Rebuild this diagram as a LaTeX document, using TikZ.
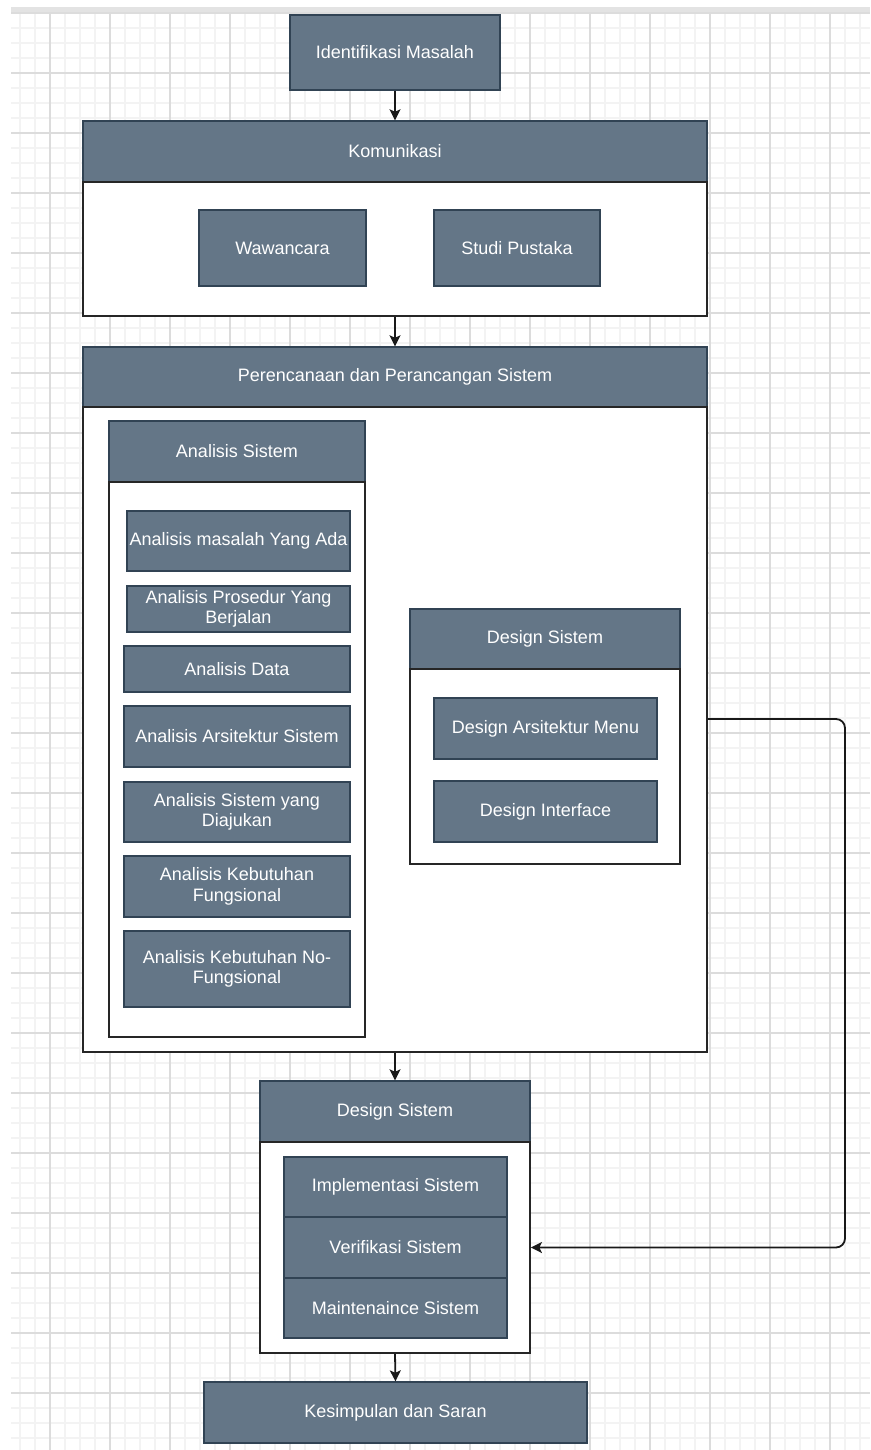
\documentclass[tikz,border=0pt]{standalone}
\usepackage{fontspec}
\setmainfont{Liberation Sans}
\usepackage{tikz}
\usetikzlibrary{arrows.meta}

\definecolor{boxfill}{HTML}{647687}
\definecolor{boxline}{HTML}{314354}
\definecolor{gridminor}{HTML}{F3F3F3}
\definecolor{gridmajor}{HTML}{DCDCDC}

\tikzset{
  box/.style={rectangle, draw=boxline, fill=boxfill, line width=1.4pt, text=white,
    align=center, inner sep=1pt, font=\fontsize{18}{20.5}\selectfont},
  lane/.style={rectangle, draw=black!85, fill=white, line width=1.8pt},
  flow/.style={-{Stealth[length=11pt,width=11pt,inset=2.5pt]}, line width=1.8pt, black!90}
}

\begin{document}
\begin{tikzpicture}[x=1pt, y=-1pt]
\useasboundingbox (0,0) rectangle (870,1450);
% Grid
\fill[gray!22] (11,7) rectangle (870,13);
\foreach \x in {20,35,...,865}
    \draw[gridminor, line width=1.4pt] (\x,13) -- (\x,1450);
\foreach \y in {13,28,...,1448}
    \draw[gridminor, line width=1.4pt] (11,\y) -- (870,\y);
\foreach \x in {50,110,...,830}
    \draw[gridmajor, line width=1.4pt] (\x,13) -- (\x,1450);
\foreach \y in {13,73,...,1393}
    \draw[gridmajor, line width=1.4pt] (11,\y) -- (870,\y);

% Identifikasi
\node[box, minimum width=210pt, minimum height=75pt] (ident) at (395,52.5) {Identifikasi Masalah};

% Komunikasi
\node[box, minimum width=624pt, minimum height=61pt] (komhead) at (395,151.5) {Komunikasi};
\node[lane, minimum width=624pt, minimum height=134pt] (kombody) at (395,249) {};
\node[box, minimum width=167pt, minimum height=76pt] (waw) at (282.5,248) {Wawancara};
\node[box, minimum width=166pt, minimum height=76pt] (studi) at (517,248) {Studi Pustaka};

% Perencanaan
\node[box, minimum width=624pt, minimum height=60pt] (planhead) at (395,377) {Perencanaan dan Perancangan Sistem};
\node[lane, minimum width=624pt, minimum height=645pt] (planbody) at (395,729.5) {};

% Analisis Sistem
\node[box, minimum width=256pt, minimum height=61pt] (anhead) at (237,451.5) {Analisis Sistem};
\node[lane, minimum width=256pt, minimum height=555pt] (anbody) at (237,759.5) {};
\node[box, minimum width=223pt, minimum height=60pt] (an1) at (238.5,541) {Analisis masalah Yang Ada};
\node[box, minimum width=223pt, minimum height=46pt] (an2) at (238.5,609) {Analisis Prosedur Yang\\Berjalan};
\node[box, minimum width=226pt, minimum height=46pt] (an3) at (237,669) {Analisis Data};
\node[box, minimum width=226pt, minimum height=61pt] (an4) at (237,736.5) {Analisis Arsitektur Sistem};
\node[box, minimum width=226pt, minimum height=60pt] (an5) at (237,812) {Analisis Sistem yang\\Diajukan};
\node[box, minimum width=226pt, minimum height=61pt] (an6) at (237,886.5) {Analisis Kebutuhan\\Fungsional};
\node[box, minimum width=226pt, minimum height=76pt] (an7) at (237,969) {Analisis Kebutuhan No-\\Fungsional};

% Design Sistem (kanan)
\node[box, minimum width=270pt, minimum height=60pt] (dshead) at (545,639) {Design Sistem};
\node[lane, minimum width=270pt, minimum height=195pt] (dsbody) at (545,766.5) {};
\node[box, minimum width=223pt, minimum height=61pt] (ds1) at (545.5,728.5) {Design Arsitektur Menu};
\node[box, minimum width=223pt, minimum height=61pt] (ds2) at (545.5,811.5) {Design Interface};

% Design Sistem (bawah)
\node[box, minimum width=270pt, minimum height=61pt] (implhead) at (395,1111.5) {Design Sistem};
\node[lane, minimum width=270pt, minimum height=211pt] (implbody) at (395,1247.5) {};
\node[box, minimum width=223pt, minimum height=60pt] (impl1) at (395.5,1187) {Implementasi Sistem};
\node[box, minimum width=223pt, minimum height=61pt] (impl2) at (395.5,1247.5) {Verifikasi Sistem};
\node[box, minimum width=223pt, minimum height=60pt] (impl3) at (395.5,1308) {Maintenaince Sistem};

% Kesimpulan
\node[box, minimum width=383pt, minimum height=61pt] (kes) at (395.5,1412.5) {Kesimpulan dan Saran};

% Arrows
\draw[flow] (ident.south) -- (komhead.north);
\draw[flow] (kombody.south) -- (planhead.north);
\draw[flow] (planbody.south) -- (implhead.north);
\draw[flow] (implbody.south) -- (kes.north);
\coordinate (loop) at (845,719);
\draw[flow, rounded corners=9pt] ([yshift=10.5pt]planbody.east) -- (loop) |- (implbody.east);
\end{tikzpicture}
\end{document}
